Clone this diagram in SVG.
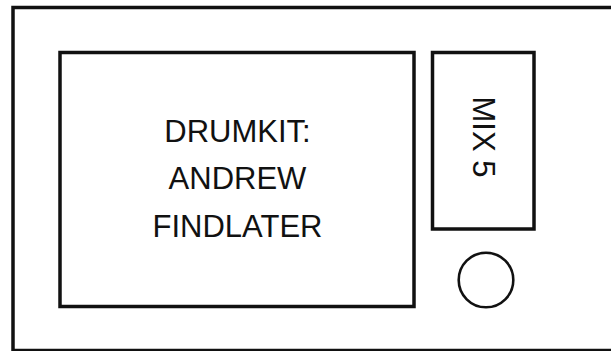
<svg xmlns="http://www.w3.org/2000/svg" width="611" height="351" viewBox="0 0 611 351">
<style>
.box{fill:#fff;stroke:#111;stroke-width:3.5}
.lbl{font-family:"Liberation Sans",Arial,sans-serif;font-size:31px;fill:#111;text-anchor:middle}
</style>
<rect width="611" height="351" fill="#fff"/>
<g id="panel"><rect class="box" x="13" y="7.5" width="620" height="343" stroke-width="3.5"/></g>
<g id="drumkit">
<rect class="box" x="60" y="52.5" width="354" height="254"/>
<text class="lbl" x="237.5" y="141.7">DRUMKIT:</text>
<text class="lbl" x="237.5" y="189.3">ANDREW</text>
<text class="lbl" x="237.5" y="236.7">FINDLATER</text>
</g>
<g id="mix5">
<rect class="box" x="432.5" y="52.5" width="101.5" height="176.5"/>
<text class="lbl" transform="translate(472.5,137) rotate(90)">MIX 5</text>
</g>
<g id="knob"><circle cx="486" cy="280" r="27.3" fill="#fff" stroke="#111" stroke-width="2.6"/></g>
<g id="connectors"/>
</svg>
